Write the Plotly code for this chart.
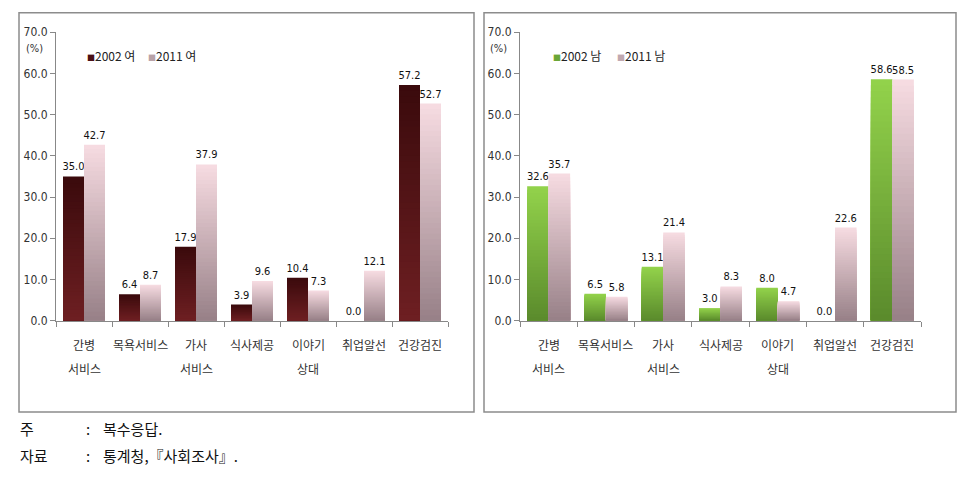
import plotly.graph_objects as go

# ---- data ----
categories = ["간병 서비스", "목욕서비스", "가사 서비스", "식사제공", "이야기 상대", "취업알선", "건강검진"]
label_line1 = ["간병", "목욕서비스", "가사", "식사제공", "이야기", "취업알선", "건강검진"]
label_line2 = ["서비스", "", "서비스", "", "상대", "", ""]
female_2002 = [35.0, 6.4, 17.9, 3.9, 10.4, 0.0, 57.2]
female_2011 = [42.7, 8.7, 37.9, 9.6, 7.3, 12.1, 52.7]
male_2002 = [32.6, 6.5, 13.1, 3.0, 8.0, 0.0, 58.6]
male_2011 = [35.7, 5.8, 21.4, 8.3, 4.7, 22.6, 58.5]
y_ticks = [0, 10, 20, 30, 40, 50, 60, 70]

W, H = 975, 482
NUM_FONT = "Liberation Sans Narrow, DejaVu Sans Condensed, Liberation Sans, sans-serif"
KR_FONT = "Noto Sans CJK KR"

def hx(c):
    c = c.lstrip("#")
    return [int(c[i:i + 2], 16) for i in (0, 2, 4)]

def mix(c1, c2, t):
    a, b = hx(c1), hx(c2)
    return "rgb(%d,%d,%d)" % tuple(round(a[k] + (b[k] - a[k]) * t) for k in range(3))

fig = go.Figure()
N = 40

def gradient_bars(vals, c_bottom, c_top, xa, ya, og):
    # overlapping bars from zero: tallest (top colour) first, shorter ones drawn over it
    for k in range(N):
        frac = (N - k) / N
        t = (N - k - 0.5) / N
        fig.add_trace(go.Bar(
            x=categories, y=[v * frac for v in vals],
            marker=dict(color=mix(c_bottom, c_top, t), line=dict(width=0)),
            offsetgroup=og, xaxis=xa, yaxis=ya, showlegend=False, hoverinfo="skip"))
    fig.add_trace(go.Bar(
        x=categories, y=vals, marker=dict(color="rgba(0,0,0,0)", line=dict(width=0)),
        text=[f"{v:.1f}" for v in vals], textposition="outside", constraintext="none",
        textfont=dict(family=NUM_FONT, size=11, color="#111"), cliponaxis=False,
        offsetgroup=og, xaxis=xa, yaxis=ya, showlegend=False, hoverinfo="skip"))

DARK_BOT, DARK_TOP = "#6e1f22", "#3a0a0c"
PINK_BOT, PINK_TOP = "#978087", "#f7dce2"
GREEN_BOT, GREEN_TOP = "#5a8a2c", "#93d34b"

gradient_bars(female_2002, DARK_BOT, DARK_TOP, "x", "y", "a")
gradient_bars(female_2011, PINK_BOT, PINK_TOP, "x", "y", "b")
gradient_bars(male_2002, GREEN_BOT, GREEN_TOP, "x2", "y2", "a")
gradient_bars(male_2011, PINK_BOT, PINK_TOP, "x2", "y2", "b")

ydom = [1 - 323 / H, 1 - 26 / H]
xaxis_common = dict(type="category", showticklabels=False, ticks="outside", tickson="boundaries",
                    ticklen=5, tickcolor="#888", showline=True, linecolor="#888", linewidth=1,
                    showgrid=False, zeroline=False, fixedrange=True)
yaxis_common = dict(range=[0, 70], tickvals=y_ticks, ticktext=[f"{v:.1f}" for v in y_ticks],
                    ticks="outside", ticklen=5, tickcolor="#888", showline=True, linecolor="#888",
                    linewidth=1, showgrid=False, zeroline=False,
                    tickfont=dict(family=NUM_FONT, size=12, color="#333"), fixedrange=True)

fig.update_layout(
    width=W, height=H, margin=dict(l=0, r=0, t=0, b=0),
    paper_bgcolor="white", plot_bgcolor="white",
    barmode="group", bargap=0.25, bargroupgap=0, showlegend=False,
    xaxis=dict(domain=[56 / W, 448 / W], anchor="y", **xaxis_common),
    yaxis=dict(domain=ydom, anchor="x", **yaxis_common),
    xaxis2=dict(domain=[520 / W, 921 / W], anchor="y2", **xaxis_common),
    yaxis2=dict(domain=ydom, anchor="x2", **yaxis_common),
)

ann = []
# category labels (two lines)
for xa in ("x", "x2"):
    for c, l1, l2 in zip(categories, label_line1, label_line2):
        ann.append(dict(x=c, xref=xa, y=1 - 348 / H, yref="paper", text=l1, showarrow=False,
                        font=dict(family=KR_FONT, size=12, color="#333"), yanchor="middle"))
        if l2:
            ann.append(dict(x=c, xref=xa, y=1 - 372 / H, yref="paper", text=l2, showarrow=False,
                            font=dict(family=KR_FONT, size=12, color="#333"), yanchor="middle"))

# (%) unit labels
for px in (34, 498):
    ann.append(dict(x=px / W, xref="paper", y=1 - 43 / H, yref="paper", text="(%)", showarrow=False,
                    font=dict(family=NUM_FONT, size=11, color="#333"), xanchor="center", yanchor="middle"))

# legends
def legend_item(px, color, label):
    ann.append(dict(x=px / W, xref="paper", y=1 - 50 / H, yref="paper", xanchor="left", yanchor="middle",
                    text=f"<span style='color:{color};font-size:8px'>■</span>{label}", showarrow=False,
                    font=dict(family=KR_FONT, size=12, color="#222")))

legend_item(85, "#4a1015", "2002 여")
legend_item(146, "#b8a2a8", "2011 여")
legend_item(551, "#6aa637", "2002 남")
legend_item(615, "#c0a8b0", "2011 남")

# notes
NOTE_FONT = dict(family=KR_FONT, size=15, color="#111")
for txt, px, py in (("주", 18, 434), (":", 84, 434), ("복수응답.", 101, 434),
                    ("자료", 18, 462), (":", 84, 462), ("통계청,『사회조사』.", 101, 462)):
    ann.append(dict(x=px / W, xref="paper", y=1 - py / H, yref="paper", xanchor="left", yanchor="middle",
                    text=txt, showarrow=False, font=NOTE_FONT))

fig.update_layout(annotations=ann)

# panel frames
for x0, x1 in ((19, 474), (484, 956)):
    fig.add_shape(type="rect", xref="paper", yref="paper", x0=x0 / W, x1=x1 / W,
                  y0=1 - 417 / H, y1=1 - 6 / H, line=dict(color="#8c8c8c", width=1.5),
                  fillcolor="rgba(0,0,0,0)", layer="below")

fig.write_html("out.html")
